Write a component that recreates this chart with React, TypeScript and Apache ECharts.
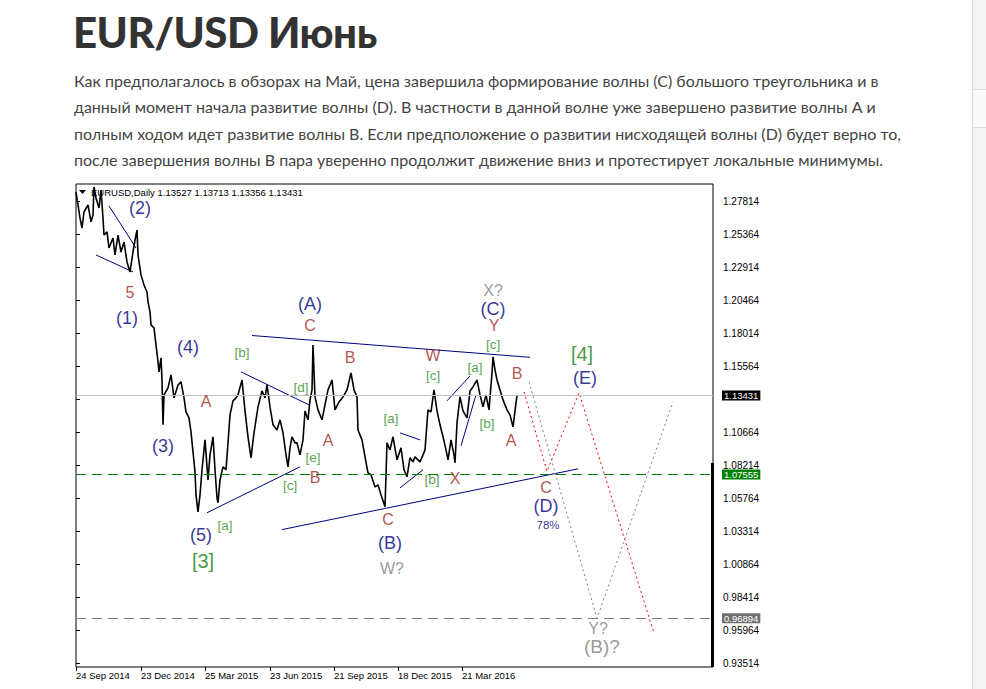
import React, { useEffect, useRef } from "react";
import * as echarts from "echarts";

// ---- price path (bar index from 24 Sep 2014, close-ish price)
const barIndex = [
  0, 2, 4, 6, 8, 12, 15, 17, 18, 20, 23, 25, 27, 28, 31, 33, 37, 39, 42, 45, 48, 51, 54, 57, 59, 61, 62, 65, 68, 71,
  72, 74, 75, 78, 80, 82, 83, 85, 86, 87, 88, 92, 95, 98, 102, 105, 108, 110, 113, 115, 117, 119, 120, 122, 124, 126,
  129, 132, 134, 137, 139, 141, 142, 144, 147, 150, 152, 154, 157, 160, 162, 166, 169, 172, 175, 178, 182, 186, 189,
  191, 194, 197, 201, 204, 207, 210, 212, 214, 216, 219, 221, 224, 227, 229, 232, 234, 236, 237, 239, 242, 246, 249,
  252, 256, 259, 263, 267, 271, 275, 278, 281, 282, 286, 289, 292, 295, 299, 302, 305, 309, 311, 314, 317, 321, 325,
  328, 331, 334, 337, 339, 344, 347, 349, 352, 355, 358, 361, 364, 367, 370, 372, 375, 378, 379, 381, 384, 387, 391,
  394, 397, 401, 404, 407, 410, 413, 416, 417, 419, 421, 424, 427, 431, 434, 437, 439, 441,
];
const closePrice = [
  1.2853, 1.2757, 1.266, 1.2586, 1.2705, 1.2757, 1.2631, 1.2683, 1.2891, 1.2809, 1.2735, 1.2868, 1.266, 1.2534,
  1.2557, 1.2438, 1.2512, 1.2386, 1.2534, 1.2408, 1.2482, 1.2334, 1.226, 1.2408, 1.2497, 1.2571, 1.2386, 1.2238,
  1.2163, 1.2111, 1.2037, 1.1963, 1.1867, 1.1844, 1.1718, 1.1592, 1.1518, 1.1622, 1.1458, 1.1125, 1.1347, 1.1399,
  1.1496, 1.1325, 1.1421, 1.1444, 1.1325, 1.1221, 1.1176, 1.1073, 1.0924, 1.0776, 1.0605, 1.0479, 1.0605, 1.0791,
  1.1013, 1.0716, 1.0902, 1.1036, 1.0791, 1.0583, 1.0546, 1.0716, 1.0813, 1.0791, 1.0991, 1.1199, 1.1303, 1.1325,
  1.1347, 1.1458, 1.1228, 1.1036, 1.088, 1.1065, 1.1258, 1.1377, 1.1325, 1.1421, 1.1258, 1.1125, 1.1087, 1.1162,
  1.1065, 1.0902, 1.0813, 1.0954, 1.1036, 1.0991, 1.0991, 1.0902, 1.1013, 1.1228, 1.1162, 1.131, 1.1384, 1.1718,
  1.1332, 1.1236, 1.1162, 1.1273, 1.1384, 1.1458, 1.1236, 1.1295, 1.1332, 1.1384, 1.151, 1.1384, 1.1332, 1.1087,
  1.1013, 1.0887, 1.0768, 1.0754, 1.0664, 1.0679, 1.0605, 1.0516, 1.0991, 1.0939, 1.1036, 1.0865, 1.0954, 1.0791,
  1.0739, 1.088, 1.085, 1.0887, 1.085, 1.0902, 1.0939, 1.1236, 1.1221, 1.1384, 1.1228, 1.1125, 1.1036, 1.0939,
  1.0865, 1.1013, 1.0902, 1.0843, 1.1139, 1.1332, 1.1228, 1.1176, 1.1377, 1.1406, 1.1458, 1.1347, 1.1258, 1.1347,
  1.1236, 1.151, 1.1629, 1.1533, 1.1458, 1.1384, 1.131, 1.1236, 1.1199, 1.111, 1.1228, 1.13431,
];

const priceTicks = [
  1.27814, 1.25364, 1.22914, 1.20464, 1.18014, 1.15564, 1.13114, 1.10664, 1.08214, 1.05764, 1.03314, 1.00864,
  0.98414, 0.95964, 0.93514,
];
// 1.13114 is hidden behind the last-price box in the reference, so it gets a tick but no label
const priceLabelTicks = [
  1.27814, 1.25364, 1.22914, 1.20464, 1.18014, 1.15564, 1.10664, 1.08214, 1.05764, 1.03314, 1.00864,
  0.98414, 0.95964, 0.93514,
];
const dateTickIndex = [0, 65, 129, 194, 258, 322, 386];
const dateTickLabels = [
  "24 Sep 2014", "23 Dec 2014", "25 Mar 2015", "23 Jun 2015", "21 Sep 2015", "18 Dec 2015", "21 Mar 2016",
];

const lastPrice = 1.13431;
const greenLevel = 1.07555;
const grayLevel = 0.96894;

// wave labels: [text, bar index, price]
const navyLabels: [string, number, number][] = [
  ["(2)", 64, 1.2735], ["(1)", 51, 1.1918], ["(4)", 112, 1.1703], ["(3)", 87, 1.0968], ["(5)", 125, 1.0309],
  ["(A)", 234, 1.202], ["(B)", 314, 1.025], ["(C)", 417, 1.1986], ["(E)", 509, 1.1473], ["(D)", 470, 1.0524],
];
const brownLabels: [string, number, number][] = [
  ["5", 54, 1.2104], ["A", 130, 1.1295], ["C", 234, 1.1864], ["B", 274, 1.1622], ["A", 252, 1.1006],
  ["B", 239, 1.0731], ["C", 312, 1.042], ["X", 379, 1.0724], ["W", 357, 1.1637], ["Y", 418, 1.1859],
  ["B", 441, 1.1503], ["A", 435, 1.1006], ["C", 470, 1.0657],
];
const greenLabels: [string, number, number][] = [
  ["[b]", 166, 1.1659], ["[d]", 225, 1.1399], ["[e]", 237, 1.088], ["[c]", 214, 1.0672], ["[a]", 149, 1.0376],
  ["[a]", 315, 1.1169], ["[b]", 356, 1.0716], ["[c]", 357, 1.1488], ["[a]", 399, 1.1548], ["[b]", 411, 1.1131],
  ["[c]", 417, 1.1718],
];
const greenBigLabels: [string, number, number][] = [
  ["[3]", 127, 1.0117], ["[4]", 506, 1.1651],
];
const grayLabels: [string, number, number][] = [
  ["W?", 316, 1.0057], ["X?", 417, 1.2119], ["Y?", 522, 0.9615],
];
const grayBigLabels: [string, number, number][] = [["(B)?", 526, 0.9481]];
const percentLabels: [string, number, number][] = [["78%", 472, 1.0383]];

// trend lines: [index1, price1, index2, price2]
const trendLines: [number, number, number, number][] = [
  [176, 1.1788, 454, 1.1626],
  [206, 1.0347, 502, 1.0798],
  [20, 1.2386, 57, 1.226],
  [33, 1.275, 60, 1.2438],
  [131, 1.0472, 224, 1.0813],
  [165, 1.1518, 233, 1.1273],
  [324, 1.1065, 344, 1.1013],
  [324, 1.0657, 347, 1.0791],
  [371, 1.1303, 394, 1.1488],
  [385, 1.0969, 400, 1.1347],
];

const redPathIdx = [448, 471, 503, 578];
const redPathVal = [1.1369, 1.0779, 1.1362, 0.9577];
const grayPathIdx = [453, 521, 597];
const grayPathVal = [1.1444, 0.9688, 1.1295];

const FONT = "'Liberation Sans', Arial, sans-serif";

function labelSeries(data: [string, number, number][], color: string, size: number) {
  return {
    type: "scatter",
    silent: true,
    symbolSize: 1,
    itemStyle: { color: "rgba(0,0,0,0)" },
    data: data.map((d) => ({ name: d[0], value: [d[1], d[2]] })),
    label: {
      show: true,
      position: "inside",
      formatter: (p: any) => p.name,
      color,
      fontSize: size,
      fontFamily: FONT,
    },
    z: 6,
  };
}

function Chart() {
  const ref = useRef<HTMLDivElement>(null);
  useEffect(() => {
    if (!ref.current) return;
    const chart = echarts.init(ref.current, undefined, { renderer: "svg" });
    const levelLabel = (bg: string, v: number) => ({
      show: true,
      position: "end",
      distance: 9,
      formatter: () => v.toFixed(5),
      backgroundColor: bg,
      color: "#fff",
      fontSize: 9.5,
      lineHeight: 10,
      fontFamily: FONT,
      padding: [0, 2, 0, 2],
    });
    const series: any[] = [
      {
        type: "line",
        data: barIndex.map((x, i) => [x, closePrice[i]]),
        symbol: "none",
        lineStyle: { color: "#000", width: 1.6 },
        z: 4,
        markLine: {
          silent: true,
          precision: 5,
          symbol: ["none", "none"],
          data: [
            { yAxis: lastPrice, lineStyle: { color: "#c0c0c0", type: "solid", width: 1 }, label: levelLabel("#000", lastPrice) },
            { yAxis: greenLevel, lineStyle: { color: "#008000", type: [10, 6], width: 1 }, label: levelLabel("#008000", greenLevel) },
            { yAxis: grayLevel, lineStyle: { color: "#808080", type: [10, 6], width: 1 }, label: levelLabel("#707070", grayLevel) },
          ],
        },
      },
      ...trendLines.map((t) => ({
        type: "line",
        silent: true,
        symbol: "none",
        data: [[t[0], t[1]], [t[2], t[3]]],
        lineStyle: { color: "#000080", width: 1 },
        z: 3,
      })),
      {
        type: "line",
        silent: true,
        symbol: "none",
        data: redPathIdx.map((x, i) => [x, redPathVal[i]]),
        lineStyle: { color: "#ff0000", width: 1, type: [2, 3] },
        z: 3,
      },
      {
        type: "line",
        silent: true,
        symbol: "none",
        data: grayPathIdx.map((x, i) => [x, grayPathVal[i]]),
        lineStyle: { color: "#808080", width: 1, type: [2, 3] },
        z: 3,
      },
      labelSeries(navyLabels, "#000080", 18),
      labelSeries(brownLabels, "#a0281e", 16),
      labelSeries(greenLabels, "#2e8a1a", 13.5),
      labelSeries(greenBigLabels, "#128012", 20),
      labelSeries(grayLabels, "#808080", 16),
      labelSeries(grayBigLabels, "#808080", 19),
      labelSeries(percentLabels, "#000080", 11.5),
    ];
    chart.setOption({
      animation: false,
      grid: {
        left: 6,
        top: 6,
        width: 637,
        height: 483,
        show: true,
        borderColor: "#000",
        borderWidth: 1,
        backgroundColor: "#fff",
      },
      xAxis: {
        type: "value",
        min: 0,
        max: 637,
        splitLine: { show: false },
        axisLine: { show: false },
        axisTick: { show: true, customValues: dateTickIndex, length: 4, lineStyle: { color: "#000" } },
        axisLabel: {
          customValues: dateTickIndex,
          formatter: (v: number) => dateTickLabels[dateTickIndex.indexOf(v)] ?? "",
          align: "left",
          fontSize: 9.5,
          color: "#000",
          fontFamily: FONT,
          margin: 3,
        },
      },
      yAxis: {
        type: "value",
        position: "right",
        min: 0.93269,
        max: 1.29128,
        splitLine: { show: false },
        axisLine: { show: false },
        axisTick: { show: true, customValues: priceTicks, length: 4, lineStyle: { color: "#000" } },
        axisLabel: {
          customValues: priceLabelTicks,
          formatter: (v: number) => v.toFixed(5),
          fontSize: 10,
          lineHeight: 8,
          padding: [0, 0, 3, 0],
          color: "#000",
          fontFamily: FONT,
          margin: 10,
        },
      },
      graphic: [
        { type: "polygon", shape: { points: [[9, 12], [16, 12], [12.5, 16]] }, style: { fill: "#000" }, z: 10 },
        {
          type: "text",
          x: 21,
          y: 9,
          style: {
            text: "EURUSD,Daily 1.13527 1.13713 1.13356 1.13431",
            fill: "#000",
            fontSize: 9.5,
            fontFamily: FONT,
          },
          z: 10,
        },
        { type: "rect", shape: { x: 641, y: 285, width: 3, height: 204 }, style: { fill: "#000" }, z: 10 },
      ],
      series,
    });
    return () => chart.dispose();
  }, []);
  return (
    <div
      ref={ref}
      style={{ position: "absolute", left: 70, top: 178, width: 710, height: 511 }}
    />
  );
}

const paragraphLines = [
  "Как предполагалось в обзорах на Май, цена завершила формирование волны (С) большого треугольника и в",
  "данный момент начала развитие волны (D). В частности в данной волне уже завершено развитие волны А и",
  "полным ходом идет развитие волны В. Если предположение о развитии нисходящей волны (D) будет верно то,",
  "после завершения волны В пара уверенно продолжит движение вниз и протестирует локальные минимумы.",
];

export default function App() {
  return (
    <div
      style={{
        position: "fixed",
        left: 0,
        top: 0,
        width: 986,
        height: 689,
        background: "#fff",
        overflow: "hidden",
        fontFamily: "Lato, 'Open Sans', sans-serif",
      }}
    >
      <div
        style={{
          position: "absolute",
          left: 73,
          top: 5,
          fontSize: 42,
          fontWeight: 900,
          color: "#333",
          letterSpacing: -0.5,
          lineHeight: "54px",
          whiteSpace: "nowrap",
        }}
      >
        EUR/USD Июнь
      </div>
      <div style={{ position: "absolute", left: 74, top: 68, fontSize: 16, color: "#444", lineHeight: "26.3px" }}>
        {paragraphLines.map((l, i) => (
          <div key={i} style={{ whiteSpace: "nowrap" }}>
            {l}
          </div>
        ))}
      </div>
      <Chart />
      <div style={{ position: "absolute", left: 972, top: 0, width: 1, height: 689, background: "#dcdcdc" }} />
      <div style={{ position: "absolute", left: 973, top: 0, width: 13, height: 689, background: "#f4f4f4" }} />
      <div style={{ position: "absolute", left: 973, top: 89, width: 13, height: 39, background: "#fafafa", borderTop: "1px solid #dcdcdc", borderBottom: "1px solid #dcdcdc", boxSizing: "border-box" }} />
    </div>
  );
}
